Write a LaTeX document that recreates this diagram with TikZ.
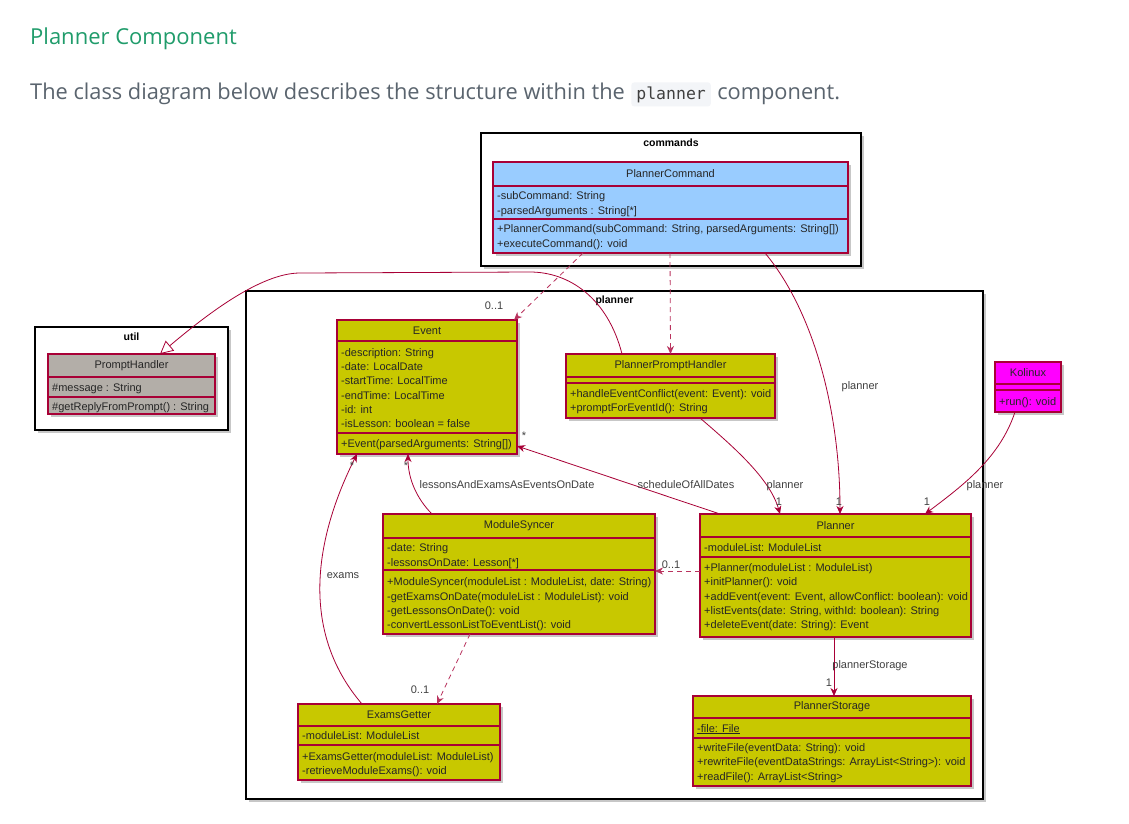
\documentclass[tikz,border=0pt]{standalone}
\usepackage{fontspec}
\setmainfont{Liberation Sans}
\newfontfamily\osans{Open Sans}
\newfontfamily\cmono{DejaVu Sans Mono}
\usetikzlibrary{arrows.meta,calc}
\definecolor{umlred}{HTML}{A80036}
\definecolor{cyel}{HTML}{C8C800}
\definecolor{cblue}{HTML}{99CCFF}
\definecolor{cgray}{HTML}{B3AEA8}
\definecolor{cmag}{HTML}{FF00FF}
\definecolor{headgreen}{RGB}{32,156,107}
\definecolor{bodygray}{RGB}{90,100,110}
\definecolor{codebg}{RGB}{243,245,248}
\newcount\umlcnt
\newcommand\umlmem[3]{\global\advance\umlcnt by 1 \node[memtxt] (m\the\umlcnt) at (#1,#2) {#3};}
\newcommand\umlhead[3]{\global\advance\umlcnt by 1 \node[hdrtxt] (m\the\umlcnt) at (#1,#2) {#3};}
\newcommand\umlsep[3]{\draw[clsline] (#1,#3) -- (#2,#3);}
\newcommand\umlclass[6]{%
  \fill[shad] (#2+3,#3+3) rectangle ++(#4,#5);
  \node[clsbox,fill=#6,minimum width=#4pt,minimum height=#5pt,anchor=north west] (#1) at (#2,#3) {};}
\newcommand\umlpkg[6]{%
  \fill[shad] (#2+3,#3+3) rectangle ++(#4,#5);
  \node[pkgbox,minimum width=#4pt,minimum height=#5pt,anchor=north west] (#1) at (#2,#3) {};
  \node[pkgtitle] (#1title) at (#2+#4/2,#3+10) {#6};}
\tikzset{
  clsbox/.style={draw=umlred, line width=1.2pt, inner sep=0pt, outer sep=0pt},
  clsline/.style={draw=umlred, line width=1.2pt},
  hdrtxt/.style={font=\fontsize{11}{13}\selectfont, inner sep=0pt, text=black!85},
  memtxt/.style={font=\fontsize{11}{13}\selectfont, inner sep=0pt, anchor=base west, text=black!85},
  pkgbox/.style={draw=black, line width=1.1pt, fill=white, inner sep=0pt, outer sep=0pt},
  pkgtitle/.style={font=\bfseries\fontsize{10.5}{13}\selectfont, inner sep=0pt},
  conn/.style={draw=umlred, line width=0.8pt},
  dep/.style={conn, draw=umlred!80, dash pattern=on 5pt off 4pt},
  arr/.style={-{Stealth[length=8pt,width=7pt,inset=2.5pt]}},
  inh/.style={-{Triangle[open,length=13pt,width=13pt]}},
  lbl/.style={font=\fontsize{11}{13}\selectfont, inner sep=0pt, text=black!75},
  shad/.style={fill=black!22},
}
\begin{document}
\begin{tikzpicture}[x=1pt,y=-1pt]
\fill[white] (0,0) rectangle (1129,823);
\useasboundingbox (0,0) rectangle (1129,823);

% page text
\node[anchor=base west, inner sep=0pt, text=headgreen, font=\osans\fontsize{22}{26}\selectfont] (title) at (30,44) {Planner Component};
\node[anchor=base west, inner sep=0pt, text=bodygray, font=\osans\fontsize{21.8}{26}\selectfont] (body1) at (30,99) {The class diagram below describes the structure within the};
\node[anchor=base west, inner xsep=5pt, inner ysep=4pt, fill=codebg, rounded corners=3pt, text=black!75, font=\cmono\fontsize{16.5}{20}\selectfont] (code) at ([xshift=6pt]body1.base east) {planner};
\node[anchor=base west, inner sep=0pt, text=bodygray, font=\osans\fontsize{21.8}{26}\selectfont] (body2) at ([xshift=6pt]code.base east) {component.};

% packages
\umlpkg{pkgcmd}{481}{133}{380}{133}{commands}
\umlpkg{pkgutil}{35}{327}{193}{103}{util}
\umlpkg{pkgpl}{246}{291}{737}{508}{planner}

% PlannerCommand
\umlclass{PC}{493}{162}{355}{91}{cblue}
\umlsep{493}{848}{186}\umlsep{493}{848}{219}
\umlhead{670.5}{174}{PlannerCommand}
\umlmem{497}{199}{-subCommand: String}
\umlmem{497}{214}{-parsedArguments : String[*]}
\umlmem{497}{232}{+PlannerCommand(subCommand: String, parsedArguments: String[])}
\umlmem{497}{247}{+executeCommand(): void}

% PromptHandler
\umlclass{PH}{48}{354}{167}{60}{cgray}
\umlsep{48}{215}{377}\umlsep{48}{215}{397}
\umlhead{131.5}{366}{PromptHandler}
\umlmem{52}{391}{\#message : String}
\umlmem{52}{410}{\#getReplyFromPrompt() : String}

% Event
\umlclass{EV}{337}{320}{180}{134}{cyel}
\umlsep{337}{517}{341}\umlsep{337}{517}{433}
\umlhead{427}{330.5}{Event}
\umlmem{341}{356}{-description: String}
\umlmem{341}{370}{-date: LocalDate}
\umlmem{341}{384}{-startTime: LocalTime}
\umlmem{341}{399}{-endTime: LocalTime}
\umlmem{341}{413}{-id: int}
\umlmem{341}{427}{-isLesson: boolean = false}
\umlmem{341}{447}{+Event(parsedArguments: String[])}

% PlannerPromptHandler
\umlclass{PPH}{566}{354}{209}{64}{cyel}
\umlsep{566}{775}{377}\umlsep{566}{775}{383}
\umlhead{670.5}{366}{PlannerPromptHandler}
\umlmem{570}{397}{+handleEventConflict(event: Event): void}
\umlmem{570}{411}{+promptForEventId(): String}

% Kolinux
\umlclass{KO}{995}{362}{66}{50}{cmag}
\umlsep{995}{1061}{384}\umlsep{995}{1061}{390}
\umlhead{1028}{373}{Kolinux}
\umlmem{999}{405}{+run(): void}

% ModuleSyncer
\umlclass{MS}{383}{514}{272}{120}{cyel}
\umlsep{383}{655}{538}\umlsep{383}{655}{570}
\umlhead{519}{526}{ModuleSyncer}
\umlmem{387}{551}{-date: String}
\umlmem{387}{566}{-lessonsOnDate: Lesson[*]}
\umlmem{387}{585}{+ModuleSyncer(moduleList : ModuleList, date: String)}
\umlmem{387}{600}{-getExamsOnDate(moduleList : ModuleList): void}
\umlmem{387}{614}{-getLessonsOnDate(): void}
\umlmem{387}{628}{-convertLessonListToEventList(): void}

% Planner
\umlclass{PL}{700}{514}{271}{123}{cyel}
\umlsep{700}{971}{537}\umlsep{700}{971}{557}
\umlhead{835.5}{526}{Planner}
\umlmem{704}{551}{-moduleList: ModuleList}
\umlmem{704}{571}{+Planner(moduleList : ModuleList)}
\umlmem{704}{585}{+initPlanner(): void}
\umlmem{704}{600}{+addEvent(event: Event, allowConflict: boolean): void}
\umlmem{704}{614}{+listEvents(date: String, withId: boolean): String}
\umlmem{704}{628}{+deleteEvent(date: String): Event}

% ExamsGetter
\umlclass{EG}{298}{704}{202}{76}{cyel}
\umlsep{298}{500}{726}\umlsep{298}{500}{745}
\umlhead{399}{715}{ExamsGetter}
\umlmem{302}{739}{-moduleList: ModuleList}
\umlmem{302}{760}{+ExamsGetter(moduleList: ModuleList)}
\umlmem{302}{774}{-retrieveModuleExams(): void}

% PlannerStorage
\umlclass{PS}{693}{696}{278}{90}{cyel}
\umlsep{693}{971}{718}\umlsep{693}{971}{738}
\umlhead{832}{707}{PlannerStorage}
\umlmem{697}{732}{\underline{-file: File}}
\umlmem{697}{751}{+writeFile(eventData: String): void}
\umlmem{697}{765}{+rewriteFile(eventDataStrings: ArrayList<String>): void}
\umlmem{697}{780}{+readFile(): ArrayList<String>}

% connectors
\coordinate (w1) at (530,272);
\coordinate (w2) at (300,273);
\draw[dep,arr] ($(PC.south west)+(90,0)$) -- ($(EV.north east)+(-3,0)$);
\draw[dep,arr] ($(PC.south west)+(177,0)$) -- ($(PPH.north west)+(104.5,0)$);
\draw[conn,arr] ($(PC.south west)+(272,0)$) .. controls +(50,60) and +(0,-100) .. ($(PL.north west)+(140,0)$);
\draw[conn,inh] ($(PPH.north west)+(56,0)$) .. controls +(-14,-55) and +(40,0) .. (w1) -- (w2) .. controls +(-40,0) and +(45,-38) .. ($(PH.north west)+(112,0)$);
\draw[conn,arr] ($(PPH.south west)+(134,0)$) .. controls +(35,30) and +(-10,-35) .. ($(PL.north west)+(80,0)$);
\draw[conn,arr] ($(KO.south west)+(20,0)$) .. controls +(-15,45) and +(40,-30) .. ($(PL.north west)+(225,0)$);
\draw[conn,arr] ($(PL.north west)+(20,0)$) -- ($(EV.south east)+(0,-8)$);
\draw[conn,arr] ($(MS.north west)+(49,0)$) .. controls +(-15,-15) and +(0,25) .. ($(EV.south west)+(71,0)$);
\draw[conn,arr] ($(EG.north west)+(64,0)$) .. controls +(-60,-70) and +(-45,90) .. ($(EV.south west)+(20,0)$);
\draw[dep,arr] ($(PL.north west)+(0,57)$) -- ($(MS.north east)+(0,57)$);
\draw[dep,arr] ($(MS.south west)+(87,0)$) -- ($(EG.north west)+(139,0)$);
\draw[conn,arr] ($(PL.south west)+(134,0)$) -- ($(PS.north west)+(141,0)$);

% labels
\node[lbl] (l1) at (494,306) {0..1};
\node[lbl] (l2) at (860,387) {planner};
\node[lbl] (l3) at (839,502) {1};
\node[lbl] (l4) at (785,486) {planner};
\node[lbl] (l5) at (779,502) {1};
\node[lbl] (l6) at (985,486) {planner};
\node[lbl] (l7) at (927,502) {1};
\node[lbl] (l8) at (686,485) {scheduleOfAllDates};
\node[lbl] (l9) at (524,436) {*};
\node[lbl] (l10) at (507,485) {lessonsAndExamsAsEventsOnDate};
\node[lbl] (l11) at (406,466) {*};
\node[lbl] (l12) at (352,466) {*};
\node[lbl] (l13) at (343,576) {exams};
\node[lbl] (l14) at (671,565) {0..1};
\node[lbl] (l15) at (420,690) {0..1};
\node[lbl] (l16) at (870,666) {plannerStorage};
\node[lbl] (l17) at (829,683) {1};
\end{tikzpicture}
\end{document}
